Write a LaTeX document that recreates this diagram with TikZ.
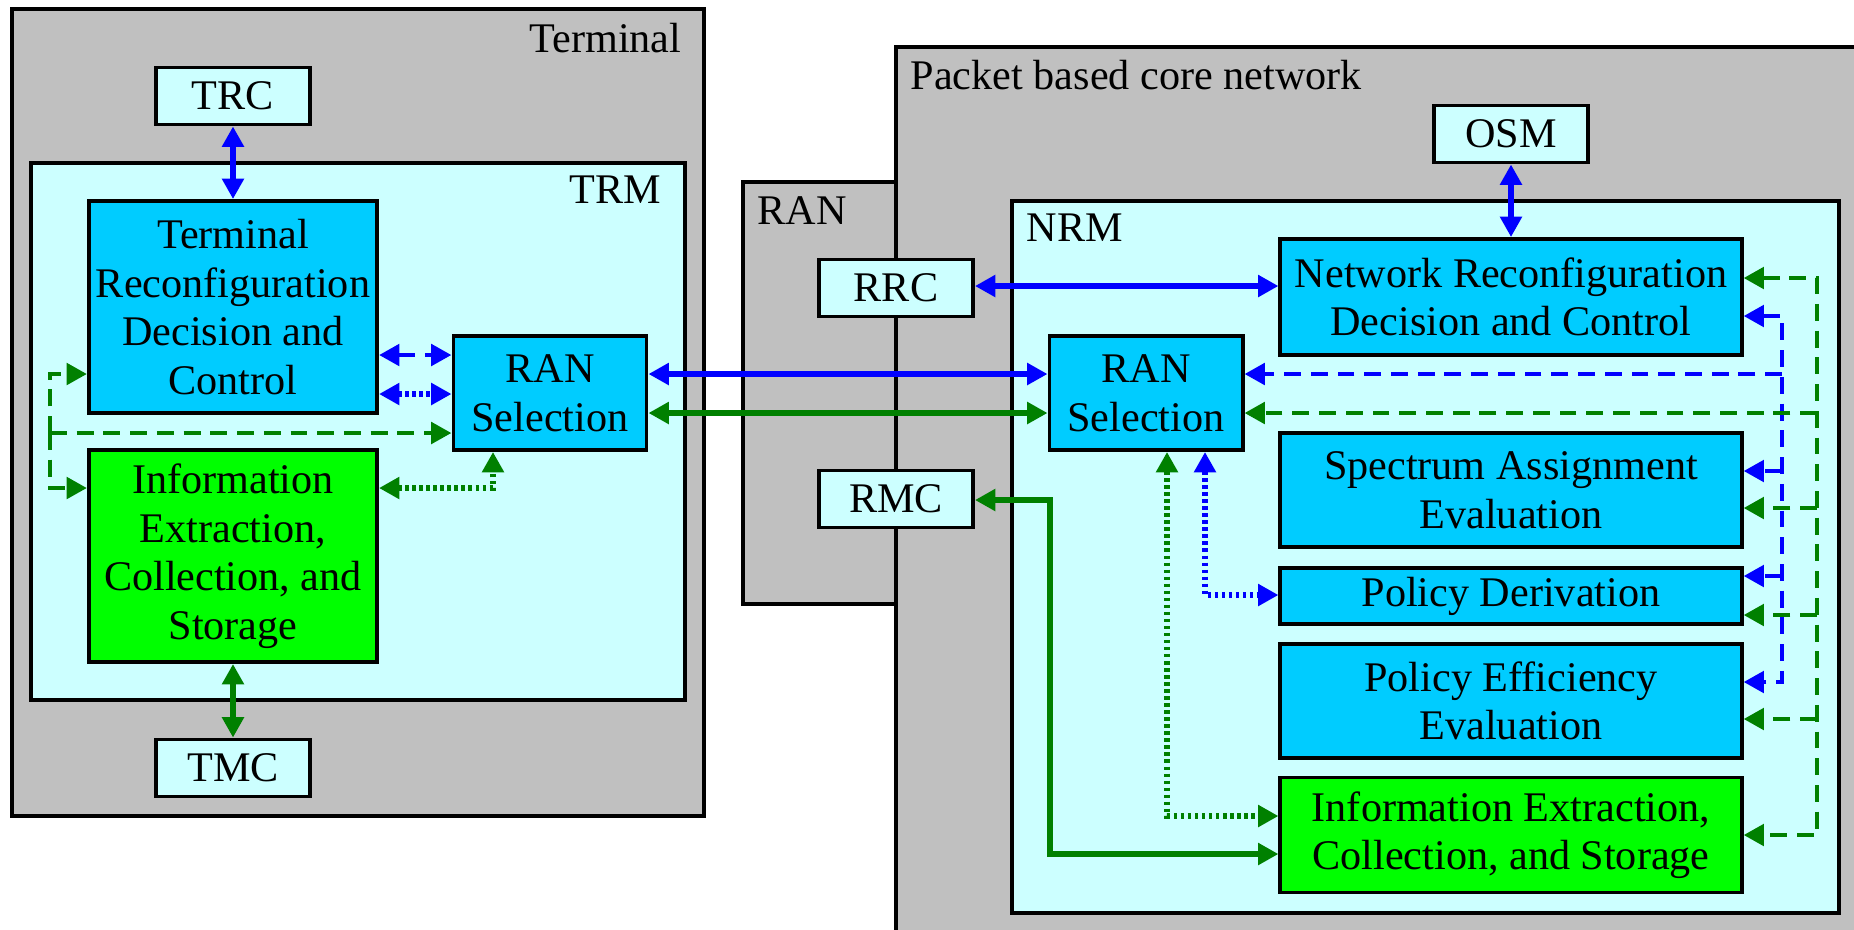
\documentclass[tikz,border=0pt]{standalone}
\usepackage{fontspec}
\setmainfont{Liberation Serif}
\usetikzlibrary{arrows.meta}
\definecolor{shellgray}{HTML}{C0C0C0}
\definecolor{pale}{HTML}{CCFFFF}
\definecolor{boxblue}{HTML}{00CCFF}
\definecolor{boxgreen}{HTML}{00FF00}
\definecolor{arrblue}{HTML}{0000FF}
\definecolor{arrgreen}{HTML}{008000}
\begin{document}
\begin{tikzpicture}[x=0.01cm,y=-0.01cm,
    >={Triangle[length=5.8pt,width=6pt]},
    every node/.style={font=\fontsize{12}{13.8}\selectfont},
    lbl/.style={inner sep=0pt},
    unit/.style={draw,line width=1.1pt,fill=pale,inner sep=0pt,minimum width=1.54cm,minimum height=0.57cm},
    func/.style={draw,line width=1.1pt,fill=boxblue,align=center,inner sep=0pt},
    infobox/.style={func,fill=boxgreen},
    bline/.style={arrblue,line width=1.7pt,<->},
    gline/.style={arrgreen,line width=1.7pt,<->},
    bdash/.style={arrblue,line width=1.4pt,dash pattern=on 4.8pt off 2.8pt},
    gdash/.style={arrgreen,line width=1.4pt,dash pattern=on 4.8pt off 2.8pt},
    bdot/.style={arrblue,line width=1.5pt,dash pattern=on 1pt off 1pt,<->},
    gdot/.style={arrgreen,line width=1.5pt,dash pattern=on 1pt off 1pt,<->}]
  \clip (0,0) rectangle (1854,929);

  % Terminal side
  \draw [line width=1.1pt,fill=shellgray] (12,9) rectangle (704,816);
  \node [lbl,anchor=east] (termlbl) at (682,38) {Terminal};
  \draw [line width=1.1pt,fill=pale] (31,163) rectangle (685,700);
  \node [lbl,anchor=east] (trmlbl) at (662,190) {TRM};

  % RAN and core network
  \draw [line width=1.1pt,fill=shellgray] (743,182) rectangle (1000,604);
  \node [lbl,anchor=west] (ranlbl) at (757,211) {RAN};
  \draw [line width=1.1pt,fill=shellgray] (896,47) rectangle (1900,1000);
  \node [lbl,anchor=west] (corelbl) at (910,75) {Packet based core network};
  \draw [line width=1.1pt,fill=pale] (1012,201) rectangle (1839,913);
  \node [lbl,anchor=west] (nrmlbl) at (1026,228) {NRM};

  % Terminal blocks
  \node [unit] (TRC) at (233,96) {TRC};
  \node [unit] (TMC) at (233,768) {TMC};
  \node [func,minimum width=2.88cm,minimum height=2.12cm] (TRDC) at (233,307)
    {Terminal\\Reconfiguration\\Decision and\\Control};
  \node [infobox,minimum width=2.88cm,minimum height=2.12cm] (IL) at (233,556)
    {Information\\Extraction,\\Collection, and\\Storage};
  \node [func,minimum width=1.93cm,minimum height=1.14cm] (RSL) at (550,393) {RAN\\Selection};

  % Network blocks
  \node [unit] (OSM) at (1511,134) {OSM};
  \node [unit] (RRC) at (896,288) {RRC};
  \node [unit] (RMC) at (896,499) {RMC};
  \node [func,minimum width=1.93cm,minimum height=1.14cm] (RSR) at (1146,393) {RAN\\Selection};
  \node [func,minimum width=4.61cm,minimum height=1.16cm] (NRDC) at (1511,297)
    {Network Reconfiguration\\Decision and Control};
  \node [func,minimum width=4.61cm,minimum height=1.14cm] (SAE) at (1511,490)
    {Spectrum Assignment\\Evaluation};
  \node [func,minimum width=4.61cm,minimum height=0.56cm] (PD) at (1511,596) {Policy Derivation};
  \node [func,minimum width=4.61cm,minimum height=1.14cm] (PEE) at (1511,701)
    {Policy Efficiency\\Evaluation};
  \node [infobox,minimum width=4.61cm,minimum height=1.15cm] (IR) at (1511,835)
    {Information Extraction,\\Collection, and Storage};

  % Terminal links
  \draw [bline] (TRC) -- (TRDC);
  \draw [gline] (IL) -- (TMC);
  \draw [bdash,<->] (TRDC.east |- 0,355) -- (RSL.west |- 0,355);
  \draw [bdot] (TRDC.east |- 0,394) -- (RSL.west |- 0,394);
  \draw [gdot] (IL.east |- 0,488) -| (RSL.south -| 493,0);
  \coordinate (tjoin) at (50,433);
  \draw [gdash,->] (tjoin) -- (RSL.west |- tjoin);
  \draw [gdash,->] (tjoin) |- (TRDC.west |- 0,374);
  \draw [gdash,->] (tjoin) |- (IL.west |- 0,488);

  % Terminal to network
  \draw [bline] (RSL.east |- 0,374) -- (RSR.west |- 0,374);
  \draw [gline] (RSL.east |- 0,413) -- (RSR.west |- 0,413);

  % Network links
  \draw [bline] (OSM) -- (NRDC);
  \draw [bline] (RRC.east |- 0,286) -- (NRDC.west |- 0,286);
  \draw [gline] (RMC.east |- 0,500) -| (1050,854) -- (IR.west |- 0,854);
  \draw [gdot] (RSR.south -| 1167,0) |- (IR.west |- 0,816);
  \draw [bdot] (RSR.south -| 1205,0) |- (PD.west |- 0,595);

  % Blue dashed bus
  \draw [bdash,<->] (NRDC.east |- 0,316) -| (1782,682) -- (PEE.east |- 0,682);
  \draw [bdash,->] (1782,374) -- (RSR.east |- 0,374);
  \draw [bdash,->] (1782,471) -- (SAE.east |- 0,471);
  \draw [bdash,->] (1782,576) -- (PD.east |- 0,576);

  % Green dashed bus
  \draw [gdash,<->] (NRDC.east |- 0,278) -| (1817,835) -- (IR.east |- 0,835);
  \draw [gdash,->] (1817,413) -- (RSR.east |- 0,413);
  \draw [gdash,->] (1817,508) -- (SAE.east |- 0,508);
  \draw [gdash,->] (1817,615) -- (PD.east |- 0,615);
  \draw [gdash,->] (1817,719) -- (PEE.east |- 0,719);
\end{tikzpicture}
\end{document}
